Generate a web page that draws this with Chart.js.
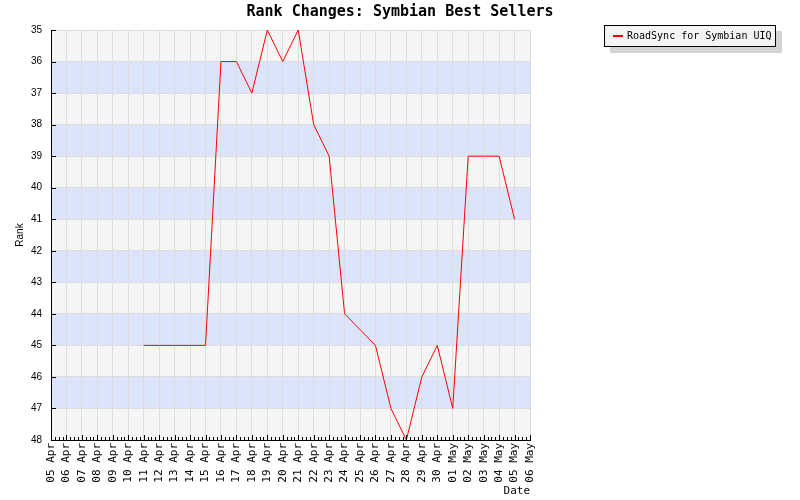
<!DOCTYPE html>
<html>
<head>
<meta charset="utf-8">
<script src="https://cdn.jsdelivr.net/npm/chart.js@4"></script>
<style>
  body { margin: 0; background: #fff; }
</style>
</head>
<body>
<canvas id="rank-chart" width="800" height="500"></canvas>
<script>
var dates = ["05 Apr", "06 Apr", "07 Apr", "08 Apr", "09 Apr", "10 Apr", "11 Apr", "12 Apr",
  "13 Apr", "14 Apr", "15 Apr", "16 Apr", "17 Apr", "18 Apr", "19 Apr", "20 Apr",
  "21 Apr", "22 Apr", "23 Apr", "24 Apr", "25 Apr", "26 Apr", "27 Apr", "28 Apr",
  "29 Apr", "30 Apr", "01 May", "02 May", "03 May", "04 May", "05 May", "06 May"];
var roadsyncRank = [null, null, null, null, null, null, 45, 45,
  45, 45, 45, 36, 36, 37, 35, 36,
  35, 38, 39, 44, null, 45, 47, 48,
  46, 45, 47, 39, 39, 39, 41, null];
var rankTicks = [35, 36, 37, 38, 39, 40, 41, 42, 43, 44, 45, 46, 47, 48];

var mono = "'DejaVu Sans Mono', monospace";
var sans = "'Liberation Sans', Arial, sans-serif";

// alternating background bands + ticks drawn inside the plot + boxed legend
var decor = {
  id: 'decor',
  beforeDraw: function(chart) {
    var ctx = chart.ctx, a = chart.chartArea, y = chart.scales.y;
    ctx.save();
    ctx.fillStyle = '#fff';
    ctx.fillRect(0, 0, chart.width, chart.height);
    for (var i = 0; i < rankTicks.length - 1; i++) {
      var y1 = y.getPixelForValue(rankTicks[i]), y2 = y.getPixelForValue(rankTicks[i + 1]);
      ctx.fillStyle = i % 2 ? '#dce4fc' : '#f5f5f5';
      ctx.fillRect(a.left, y1, a.right - a.left, y2 - y1);
    }
    ctx.restore();
  },
  afterDraw: function(chart) {
    var ctx = chart.ctx, a = chart.chartArea, x = chart.scales.x, y = chart.scales.y;
    ctx.save();
    ctx.strokeStyle = '#000';
    ctx.lineWidth = 1;
    ctx.beginPath();
    rankTicks.forEach(function(v) {
      var py = Math.round(y.getPixelForValue(v)) + 0.5;
      ctx.moveTo(a.left, py);
      ctx.lineTo(a.left + 5, py);
    });
    for (var i = 0; i < dates.length; i++) {
      var px = x.getPixelForValue(i);
      ctx.moveTo(Math.round(px) + 0.5, a.bottom);
      ctx.lineTo(Math.round(px) + 0.5, a.bottom - 5);
      if (i < dates.length - 1) {
        var nx = x.getPixelForValue(i + 1);
        for (var k = 1; k < 4; k++) {
          var mx = Math.round(px + (nx - px) * k / 4) + 0.5;
          ctx.moveTo(mx, a.bottom);
          ctx.lineTo(mx, a.bottom - 3);
        }
      }
    }
    ctx.stroke();

    // legend
    var ds = chart.data.datasets[0];
    ctx.fillStyle = '#d4d4d4';
    ctx.fillRect(610, 31, 172, 22);
    ctx.fillStyle = '#f4f4f4';
    ctx.fillRect(604, 25, 171, 21);
    ctx.strokeStyle = '#000';
    ctx.strokeRect(604.5, 25.5, 171, 21);
    ctx.strokeStyle = ds.borderColor;
    ctx.lineWidth = 2;
    ctx.beginPath();
    ctx.moveTo(613, 36);
    ctx.lineTo(623, 36);
    ctx.stroke();
    ctx.fillStyle = '#000';
    ctx.font = '10px ' + mono;
    ctx.textBaseline = 'middle';
    ctx.fillText(ds.label, 627, 36.5);
    ctx.restore();
  }
};

new Chart(document.getElementById("rank-chart"), {
  type: 'line',
  data: {
    labels: dates,
    datasets: [{
      label: "RoadSync for Symbian UIQ",
      data: roadsyncRank,
      borderColor: "#ff0000",
      backgroundColor: "#ff0000",
      borderWidth: 1,
      pointRadius: 0,
      tension: 0,
      spanGaps: true,
      fill: false
    }]
  },
  options: {
    responsive: false,
    animation: false,
    layout: { padding: 0 },
    plugins: {
      legend: { display: false },
      tooltip: { enabled: false },
      title: {
        display: true,
        text: 'Rank Changes: Symbian Best Sellers',
        color: '#000',
        font: { family: mono, size: 15, weight: 'bold', lineHeight: 1.2 },
        padding: { top: 3, bottom: 9 }
      }
    },
    scales: {
      x: {
        type: 'category',
        offset: false,
        afterFit: function(s) { s.height = 60; },
        border: { color: '#000', width: 1 },
        grid: { color: '#dddddd', drawTicks: false },
        ticks: {
          autoSkip: false,
          minRotation: 90,
          maxRotation: 90,
          padding: 3,
          color: '#000',
          font: { family: mono, size: 11 }
        },
        title: {
          display: true,
          text: 'Date',
          align: 'end',
          color: '#000',
          font: { family: mono, size: 11 },
          padding: { top: 0, bottom: 2 }
        }
      },
      y: {
        type: 'linear',
        position: 'left',
        reverse: true,
        min: 35,
        max: 48,
        afterFit: function(s) { s.width = 51; },
        afterBuildTicks: function(s) { s.ticks = rankTicks.map(function(v) { return { value: v }; }); },
        border: { color: '#000', width: 1 },
        grid: { color: '#dddddd', drawTicks: false },
        ticks: {
          padding: 9,
          color: '#000',
          font: { family: sans, size: 10 }
        },
        title: {
          display: true,
          text: 'Rank',
          color: '#000',
          font: { family: sans, size: 10 },
          padding: { top: 14, bottom: 0 }
        }
      },
      side: {
        type: 'linear',
        position: 'right',
        afterFit: function(s) { s.width = 270; },
        grid: { display: false, drawTicks: false },
        border: { display: false },
        ticks: { display: false }
      }
    }
  },
  plugins: [decor]
});
</script>
</body>
</html>
